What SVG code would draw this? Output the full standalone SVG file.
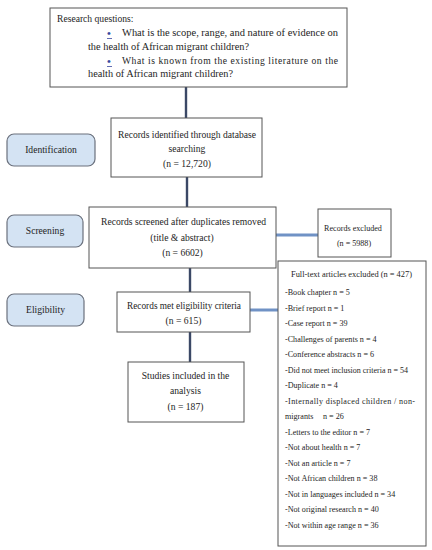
<svg xmlns="http://www.w3.org/2000/svg" width="432" height="550" viewBox="0 0 432 550">
<style>
.box{fill:#fff;stroke:#555;stroke-width:1}
.pill{fill:#d4e3f3;stroke:#6b717d;stroke-width:1.2}
.t{font-family:"Liberation Serif","DejaVu Serif","Times New Roman",serif;font-size:9.6px;fill:#1e1e1e}
.c{text-anchor:middle}
.s{font-family:"Liberation Serif","DejaVu Serif","Times New Roman",serif;font-size:8.1px;fill:#1e1e1e}
.v{stroke:#3b4866;stroke-width:2.4;fill:none}
.h{stroke:#7092c5;stroke-width:3;fill:none}
.b{fill:#3848a0;font-family:"Liberation Serif","DejaVu Serif",serif;font-size:11px;font-weight:bold}
</style>
<rect width="432" height="550" fill="#fff"/>
<g id="connectors">
<line class="v" x1="186" y1="87" x2="186" y2="118"/>
<line class="v" x1="187" y1="177" x2="187" y2="207"/>
<line class="v" x1="190" y1="268" x2="190" y2="292"/>
<line class="v" x1="190" y1="332" x2="190" y2="362"/>
<line class="h" x1="276" y1="235" x2="318" y2="235"/>
<line class="h" x1="250" y1="310" x2="278" y2="310"/>
</g>
<g id="research-questions">
<rect class="box" x="50" y="8" width="297" height="79"/>
<text class="t" x="57" y="22">Research questions:</text>
<text class="b" x="107" y="36.5">•</text>
<line x1="107" y1="38.5" x2="112" y2="38.5" stroke="#3848a0" stroke-width="0.8"/>
<text class="t" x="122" y="36" textLength="216" lengthAdjust="spacingAndGlyphs">What is the scope, range, and nature of evidence on</text>
<text class="t" x="88" y="50" textLength="161" lengthAdjust="spacingAndGlyphs">the health of African migrant children?</text>
<text class="b" x="107" y="64.5">•</text>
<line x1="107" y1="66.5" x2="112" y2="66.5" stroke="#3848a0" stroke-width="0.8"/>
<text class="t" x="122" y="64" textLength="216" lengthAdjust="spacing">What is known from the existing literature on the</text>
<text class="t" x="88" y="77" textLength="145" lengthAdjust="spacingAndGlyphs">health of African migrant children?</text>
</g>
<g id="identification-label">
<rect class="pill" x="7" y="134" width="88" height="32" rx="7"/>
<text class="t c" x="51" y="153">Identification</text>
</g>
<g id="screening-label">
<rect class="pill" x="7" y="215" width="76" height="32" rx="7"/>
<text class="t c" x="45" y="234">Screening</text>
</g>
<g id="eligibility-label">
<rect class="pill" x="7" y="294" width="77" height="32" rx="7"/>
<text class="t c" x="45.5" y="313">Eligibility</text>
</g>
<g id="records-identified">
<rect class="box" x="111" y="118" width="151" height="59"/>
<text class="t c" x="187" y="138" textLength="138" lengthAdjust="spacingAndGlyphs">Records identified through database</text>
<text class="t c" x="187" y="152">searching</text>
<text class="t c" x="187" y="167">(n = 12,720)</text>
</g>
<g id="records-screened">
<rect class="box" x="89" y="207" width="187" height="61"/>
<text class="t c" x="183.5" y="225" textLength="165" lengthAdjust="spacingAndGlyphs">Records screened after duplicates removed</text>
<text class="t c" x="182" y="241">(title &amp; abstract)</text>
<text class="t c" x="182.5" y="256">(n = 6602)</text>
</g>
<g id="records-excluded">
<rect class="box" x="318" y="209" width="73" height="48"/>
<text class="s c" x="353" y="231">Records excluded</text>
<text class="s c" x="354" y="246">(n = 5988)</text>
</g>
<g id="records-eligible">
<rect class="box" x="117" y="292" width="133" height="40"/>
<text class="t c" x="184" y="309" textLength="114" lengthAdjust="spacingAndGlyphs">Records met eligibility criteria</text>
<text class="t c" x="183.5" y="324">(n = 615)</text>
</g>
<g id="studies-included">
<rect class="box" x="128" y="362" width="116" height="60"/>
<text class="t c" x="185.5" y="379">Studies included in the</text>
<text class="t c" x="185.5" y="394">analysis</text>
<text class="t c" x="185.5" y="410">(n = 187)</text>
</g>
<g id="fulltext-excluded">
<rect class="box" x="278" y="261" width="148" height="285"/>
<text class="s c" x="351.5" y="277" textLength="121" lengthAdjust="spacingAndGlyphs">Full-text articles excluded (n = 427)</text>
<text class="s" x="285" y="295">-Book chapter n = 5</text>
<text class="s" x="285" y="310.5">-Brief report n = 1</text>
<text class="s" x="285" y="326">-Case report n = 39</text>
<text class="s" x="285" y="341.5">-Challenges of parents n = 4</text>
<text class="s" x="285" y="357">-Conference abstracts n = 6</text>
<text class="s" x="285" y="372.5" textLength="123" lengthAdjust="spacingAndGlyphs">-Did not meet inclusion criteria n = 54</text>
<text class="s" x="285" y="388">-Duplicate n = 4</text>
<text class="s" x="285" y="403.5" textLength="130" lengthAdjust="spacing">-Internally displaced children / non-</text>
<text class="s" x="285" y="419">migrants</text>
<text class="s" x="323" y="419">n = 26</text>
<text class="s" x="285" y="434.5">-Letters to the editor n = 7</text>
<text class="s" x="285" y="450">-Not about health n = 7</text>
<text class="s" x="285" y="465.5">-Not an article n = 7</text>
<text class="s" x="285" y="481">-Not African children n = 38</text>
<text class="s" x="285" y="496.5">-Not in languages included n = 34</text>
<text class="s" x="285" y="512">-Not original research n = 40</text>
<text class="s" x="285" y="527.5">-Not within age range n = 36</text>
</g>
</svg>
